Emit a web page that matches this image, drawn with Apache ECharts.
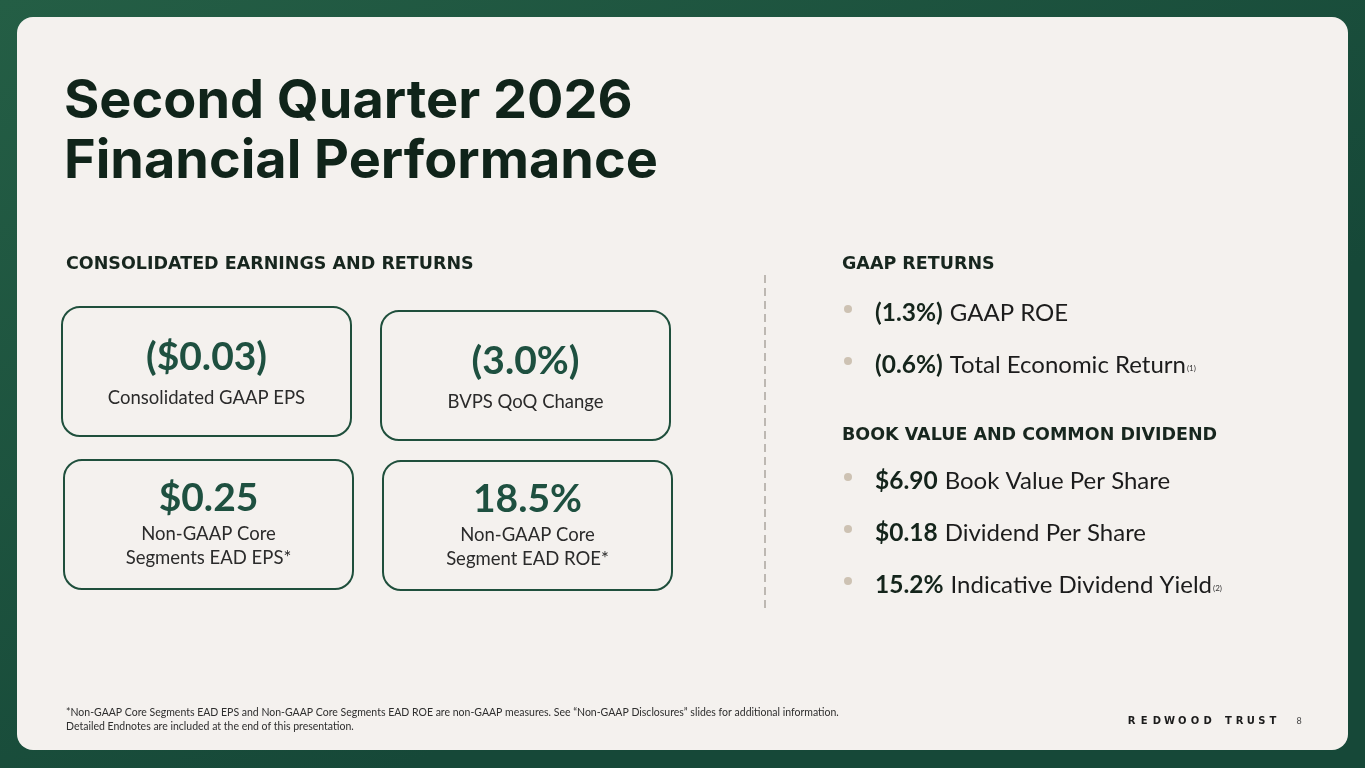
<!DOCTYPE html>
<html><head><meta charset="utf-8">
<script src="https://cdn.jsdelivr.net/npm/echarts@6/dist/echarts.min.js"></script>
<style>html,body{margin:0;padding:0;background:#1f5540;}#c{width:1365px;height:768px;}</style>
</head><body><div id="c"></div>
<script>
var titleLines = ['Second Quarter 2026', 'Financial Performance'];
var leftHeader = 'CONSOLIDATED EARNINGS AND RETURNS';
var kpiValues = ['($0.03)', '(3.0%)', '$0.25', '18.5%'];
var kpiLabels = [['Consolidated GAAP EPS'], ['BVPS QoQ Change'], ['Non-GAAP Core', 'Segments EAD EPS*'], ['Non-GAAP Core', 'Segment EAD ROE*']];
var gaapHeader = 'GAAP RETURNS';
var gaapBold = ['(1.3%)', '(0.6%)'];
var gaapText = ['GAAP ROE', 'Total Economic Return'];
var gaapNotes = ['', '(1)'];
var bookHeader = 'BOOK VALUE AND COMMON DIVIDEND';
var bookBold = ['$6.90', '$0.18', '15.2%'];
var bookText = ['Book Value Per Share', 'Dividend Per Share', 'Indicative Dividend Yield'];
var bookNotes = ['', '', '(2)'];
var footnotes = ['*Non-GAAP Core Segments EAD EPS and Non-GAAP Core Segments EAD ROE are non-GAAP measures. See \u201cNon-GAAP Disclosures\u201d slides for additional information.', 'Detailed Endnotes are included at the end of this presentation.'];
var brandWords = ['REDWOOD', 'TRUST'];
var pageNo = '8';

var chart = echarts.init(document.getElementById('c'), null, {renderer: 'canvas'});
var G = [];
var DARK = '#10241a', GREEN = '#1f4f3c', BODY = '#2b2b2b';
var HFONT = '700 17.5px "DejaVu Sans", sans-serif';

G.push({type: 'rect', shape: {x: 0, y: 0, width: 1365, height: 768}, style: {fill: new echarts.graphic.LinearGradient(0, 0, 0.3, 1, [{offset: 0, color: '#245e45'}, {offset: 1, color: '#164838'}])}, silent: true});
G.push({type: 'rect', shape: {x: 17, y: 17, width: 1331, height: 733, r: 16}, style: {fill: '#f4f1ee'}, silent: true});

titleLines.forEach(function (t, i) {
  G.push({type: 'text', x: 64, y: 102 + i * 60, style: {text: t, fill: DARK, font: '700 54px Inter, Lato, sans-serif', verticalAlign: 'middle'}});
});

G.push({type: 'text', x: 66, y: 264, style: {text: leftHeader, fill: '#17261e', font: HFONT, verticalAlign: 'middle'}});

var boxes = [[62, 307], [381, 311], [64, 460], [383, 461]];
kpiValues.forEach(function (v, i) {
  var bx = boxes[i][0], by = boxes[i][1], w = 289, h = 129;
  G.push({type: 'rect', shape: {x: bx, y: by, width: w, height: h, r: 18}, style: {fill: 'none', stroke: GREEN, lineWidth: 2}});
  var lab = kpiLabels[i];
  var vy = lab.length === 1 ? by + 50 : by + 38;
  G.push({type: 'text', x: bx + w / 2, y: vy, style: {text: v, fill: '#1e5040', font: '700 39px Lato, sans-serif', align: 'center', verticalAlign: 'middle'}});
  lab.forEach(function (l, j) {
    G.push({type: 'text', x: bx + w / 2, y: (lab.length === 1 ? by + 91 : by + 74) + j * 24, style: {text: l, fill: BODY, font: '400 18.5px Lato, sans-serif', align: 'center', verticalAlign: 'middle'}});
  });
});

G.push({type: 'line', shape: {x1: 765, y1: 275, x2: 765, y2: 612}, style: {stroke: '#bdb8b2', lineWidth: 2, lineDash: [8, 5]}});

function header(t, y) {
  G.push({type: 'text', x: 842, y: y, style: {text: t, fill: '#17261e', font: HFONT, verticalAlign: 'middle'}});
}
function bullet(b, t, n, y) {
  G.push({type: 'circle', shape: {cx: 848, cy: y - 4, r: 4}, style: {fill: '#cdc2b3'}});
  G.push({type: 'text', x: 875, y: y, style: {text: '{b|' + b + '}{t|' + t + '}' + (n ? '{n|' + n + '}' : ''), verticalAlign: 'middle',
    rich: {b: {font: '700 24.5px Lato, sans-serif', fill: '#14241b'}, t: {font: '400 24px Lato, sans-serif', fill: '#1c1c1c', padding: [0, 0, 0, 7]}, n: {font: '400 8px Lato, sans-serif', fill: '#333', padding: [6, 0, 0, 1]}}}});
}
header(gaapHeader, 264);
gaapBold.forEach(function (b, i) { bullet(b, gaapText[i], gaapNotes[i], 313 + i * 52); });
header(bookHeader, 435);
bookBold.forEach(function (b, i) { bullet(b, bookText[i], bookNotes[i], 481 + i * 52); });

footnotes.forEach(function (f, i) {
  G.push({type: 'text', x: 66, y: 713 + i * 14, style: {text: f, fill: '#2e2e2e', font: '400 10.5px Lato, sans-serif', verticalAlign: 'middle'}});
});
// letter-spaced brand wordmark
var wordStart = [1131.5, 1228.5], wordPitch = [12.7, 11.1];
brandWords.forEach(function (wd, wi) {
  wd.split('').forEach(function (ch, k) {
    G.push({type: 'text', x: wordStart[wi] + k * wordPitch[wi], y: 721, style: {text: ch, fill: '#1c1c1c', font: '700 10px "DejaVu Sans", sans-serif', align: 'center', verticalAlign: 'middle'}});
  });
});
G.push({type: 'text', x: 1299, y: 721, style: {text: pageNo, fill: '#444', font: '400 9px Lato, sans-serif', align: 'center', verticalAlign: 'middle'}});

chart.setOption({animation: false, graphic: {elements: G}});
</script></body></html>
